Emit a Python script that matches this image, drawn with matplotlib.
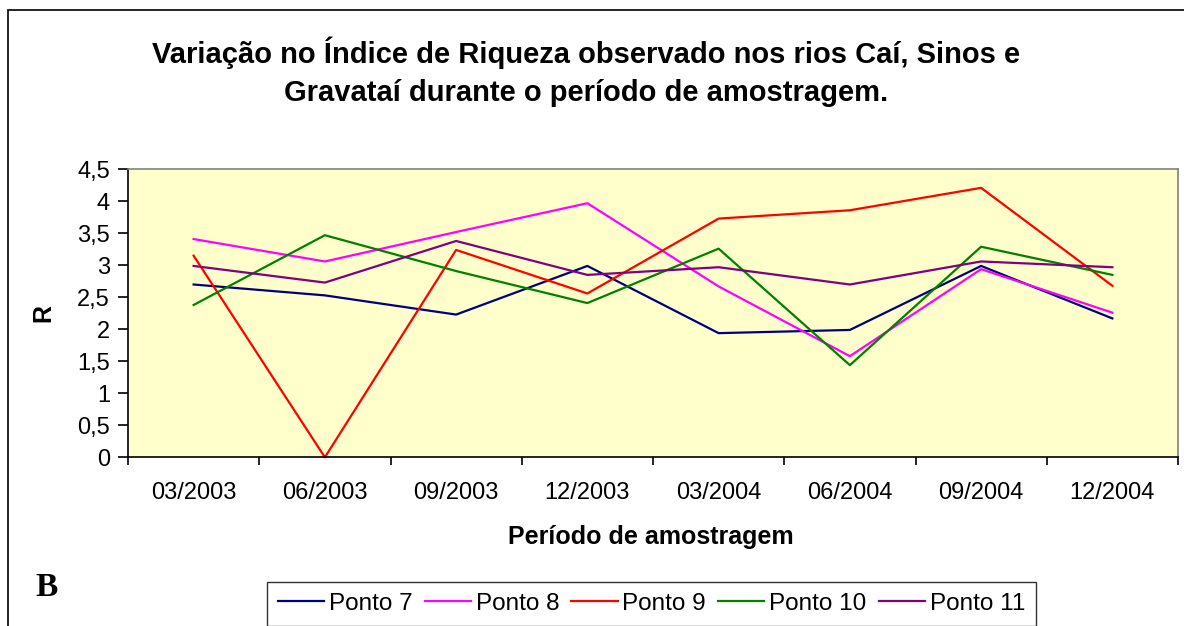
import matplotlib.pyplot as plt
from matplotlib.patches import Rectangle

periods = ["03/2003", "06/2003", "09/2003", "12/2003",
           "03/2004", "06/2004", "09/2004", "12/2004"]
ponto7 = [2.70, 2.53, 2.23, 2.99, 1.94, 1.99, 2.99, 2.17]
ponto8 = [3.41, 3.06, 3.52, 3.97, 2.67, 1.58, 2.94, 2.26]
ponto9 = [3.15, 0.00, 3.24, 2.56, 3.73, 3.86, 4.21, 2.68]
ponto10 = [2.38, 3.47, 2.91, 2.41, 3.26, 1.44, 3.29, 2.85]
ponto11 = [2.99, 2.73, 3.38, 2.85, 2.97, 2.70, 3.06, 2.97]
series_names = ["Ponto 7", "Ponto 8", "Ponto 9", "Ponto 10", "Ponto 11"]
y_ticks = [0, 0.5, 1, 1.5, 2, 2.5, 3, 3.5, 4, 4.5]
y_tick_labels = ["0", "0,5", "1", "1,5", "2", "2,5", "3", "3,5", "4", "4,5"]

colors = ["#000080", "#FF00FF", "#FF0000", "#008000", "#800080"]

plt.rcParams['font.family'] = ['Liberation Sans', 'DejaVu Sans']

W, H = 1184, 626
fig = plt.figure(figsize=(W / 100, H / 100), dpi=100)

# outer chart frame (cut at right/bottom like the reference)
fig.patches.append(Rectangle((8 / W, -0.1), 1.2, 1 - 10 / H + 0.1,
                             transform=fig.transFigure, fill=False,
                             edgecolor="black", linewidth=1.2))

ax = fig.add_axes([128 / W, (H - 457.3) / H, 1050 / W, 288 / H])
ax.set_facecolor("#FFFFCC")

x = list(range(len(periods)))
for vals, name, c in zip([ponto7, ponto8, ponto9, ponto10, ponto11],
                         series_names, colors):
    ax.plot(x, vals, color=c, linewidth=1.6, label=name, clip_on=False)

ax.set_xlim(-0.5, len(periods) - 0.5)
ax.set_ylim(0, 4.5)
ax.set_yticks(y_ticks)
ax.set_yticklabels(y_tick_labels, fontsize=17)
ax.set_xticks(x)
ax.set_xticklabels(periods, fontsize=17)
ax.set_xticks([i - 0.5 for i in range(len(periods) + 1)], minor=True)
ax.tick_params(axis="x", which="major", length=0, pad=18)
ax.tick_params(axis="x", which="minor", length=5.5, width=1.2, direction="out")
ax.tick_params(axis="y", length=7, width=1.2, direction="out", pad=6)

for s in ["left", "bottom"]:
    ax.spines[s].set_color("black")
    ax.spines[s].set_linewidth(1.2)
for s in ["top", "right"]:
    ax.spines[s].set_color("#808080")
    ax.spines[s].set_linewidth(1.2)

ax.set_xlabel("Período de amostragem", fontsize=18, fontweight="bold")
ax.set_ylabel("R", fontsize=18, fontweight="bold")
ax.xaxis.label.set_va("center")
ax.yaxis.label.set_va("center")
ax.xaxis.set_label_coords((651 - 128) / 1050, -(537 - 457.3) / 288)
ax.yaxis.set_label_coords(-(128 - 43) / 1050, (457.3 - 313) / 288)

fig.text(586 / W, 1 - 53 / H, "Variação no Índice de Riqueza observado nos rios Caí, Sinos e",
         ha="center", va="center", fontsize=21, fontweight="bold")
fig.text(586 / W, 1 - 93 / H, "Gravataí durante o período de amostragem.",
         ha="center", va="center", fontsize=21, fontweight="bold")

fig.text(47 / W, 1 - 587 / H, "B", ha="center", va="center", fontsize=24,
         fontweight="bold", family=["Liberation Serif", "DejaVu Serif"])

leg = fig.legend(loc="upper left", bbox_to_anchor=(267 / W, 1 - 582 / H),
                 ncol=5, fontsize=17.5, frameon=True, fancybox=False,
                 handlelength=1.9, handletextpad=0.2, columnspacing=0.5,
                 borderpad=0.45, borderaxespad=0)
leg.get_frame().set_edgecolor("black")
leg.get_frame().set_linewidth(1.0)

fig.savefig("out.png", dpi=100)
